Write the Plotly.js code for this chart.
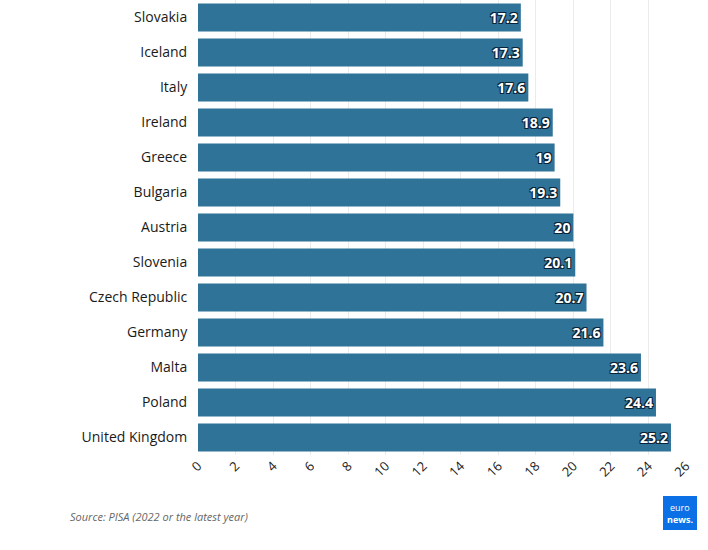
<!DOCTYPE html>
<html>
<head>
<meta charset="utf-8">
<script src="https://cdn.plot.ly/plotly-3.0.1.min.js"></script>
<style>html,body{margin:0;padding:0;background:#fff;}#chart{width:708px;height:550px;}</style>
</head>
<body>
<div id="chart"></div>
<script>
const countries = ["Slovakia","Iceland","Italy","Ireland","Greece","Bulgaria","Austria","Slovenia","Czech Republic","Germany","Malta","Poland","United Kingdom"];
const values = [17.2,17.3,17.6,18.9,19,19.3,20,20.1,20.7,21.6,23.6,24.4,25.2];
const xTicks = [0,2,4,6,8,10,12,14,16,18,20,22,24,26];

const trace = {
  type: 'bar',
  orientation: 'h',
  y: countries,
  x: values,
  marker: {color: '#2f7398'},
  text: values.map(v => String(v)),
  textposition: 'inside',
  insidetextanchor: 'end',
  textangle: 0,
  textfont: {family: 'Open Sans', size: 14, color: '#ffffff', weight: 700,
             shadow: '1px 1px 0 #0a2236, -1px -1px 0 #0a2236, 1px -1px 0 #0a2236, -1px 1px 0 #0a2236'},
  cliponaxis: false,
  hoverinfo: 'none'
};

const px = x => (x - 198) / 488;
const py = y => (455 - y) / 455;

const layout = {
  width: 708, height: 550,
  margin: {l: 198, r: 22, t: 0, b: 95},
  paper_bgcolor: '#ffffff', plot_bgcolor: '#ffffff',
  bargap: 0.2,
  showlegend: false,
  font: {family: 'Open Sans', color: '#222'},
  xaxis: {
    range: [0, 26],
    tickvals: xTicks,
    ticktext: xTicks.map(String),
    tickangle: -45,
    showgrid: true, gridcolor: '#ebebeb', gridwidth: 1,
    zeroline: false, showline: false,
    tickfont: {family: 'Open Sans', size: 13, color: '#222'},
    ticks: '', fixedrange: true
  },
  yaxis: {
    autorange: 'reversed',
    categoryorder: 'array', categoryarray: countries,
    tickfont: {family: 'Open Sans', size: 14, color: '#1a1a1a'},
    ticks: 'outside', ticklen: 7, tickcolor: 'rgba(0,0,0,0)',
    showgrid: false, zeroline: false, showline: false, fixedrange: true
  },
  shapes: [
    {type: 'rect', xref: 'paper', yref: 'paper', x0: px(663), x1: px(697), y0: py(530), y1: py(496), fillcolor: '#0b6fe5', line: {width: 0}}
  ],
  annotations: [
    {xref: 'paper', yref: 'paper', x: px(68), y: py(516), xanchor: 'left', yanchor: 'middle',
     text: '<i>Source: PISA (2022 or the latest year)</i>', showarrow: false,
     font: {family: 'Open Sans', size: 11, color: '#666'}},
    {xref: 'paper', yref: 'paper', x: px(680), y: py(507), xanchor: 'center', yanchor: 'middle', text: 'euro', showarrow: false,
     font: {family: 'Open Sans', size: 9, color: '#ffffff'}},
    {xref: 'paper', yref: 'paper', x: px(680), y: py(519), xanchor: 'center', yanchor: 'middle', text: '<b>news.</b>', showarrow: false,
     font: {family: 'Open Sans', size: 9, color: '#ffffff'}}
  ]
};

Plotly.newPlot('chart', [trace], layout, {displayModeBar: false, staticPlot: true});
</script>
</body>
</html>
